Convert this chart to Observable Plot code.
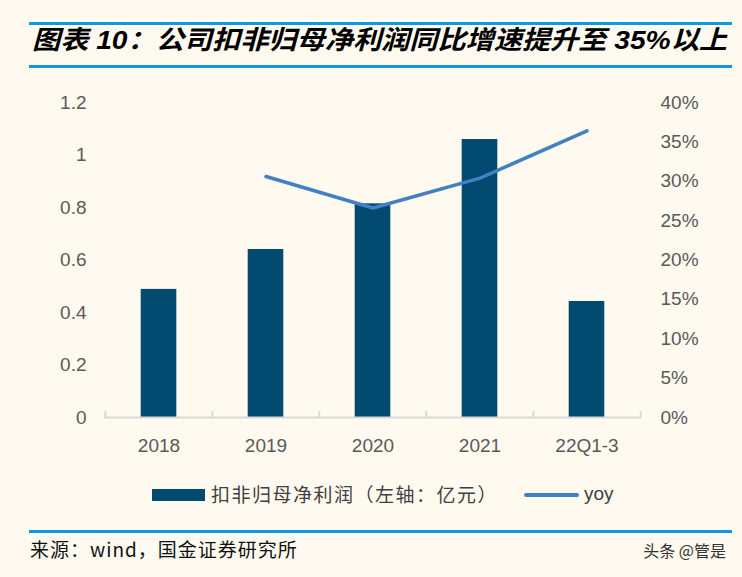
<!DOCTYPE html>
<html>
<head>
<meta charset="utf-8">
<script src="https://cdn.jsdelivr.net/npm/d3@7"></script>
<script src="https://cdn.jsdelivr.net/npm/@observablehq/plot@0.6"></script>
<style>
  html, body { margin: 0; padding: 0; background: #fffaf0; }
  #wrap { position: relative; width: 742px; height: 577px; background: #fffaf0; overflow: hidden;
          font-family: "Liberation Sans", "Noto Sans CJK SC", sans-serif; }
  .hline { position: absolute; left: 29px; width: 703px; height: 3px; background: #0a9be3; }
  #chart { position: absolute; left: 0; top: 80px; }
  #legend { position: absolute; top: 483px; left: 0; width: 742px; height: 24px; }
  .lg { position: absolute; }
  #source { position: absolute; left: 30px; top: 535px; font-size: 19px; color: #111; letter-spacing: 1px;
            font-family: "Noto Sans CJK SC", sans-serif; white-space: nowrap; }
  #mark { position: absolute; right: 16px; top: 538px; font-size: 16px; color: #333;
          font-family: "Noto Sans CJK SC", sans-serif; white-space: nowrap; }
</style>
</head>
<body>
<div id="wrap">
  <div class="hline" style="top:22px"></div>
  <svg id="title" width="742" height="70" style="position:absolute;left:0;top:0">
    <text x="32" y="49" font-size="26" font-weight="bold" font-style="italic" fill="#000"
      font-family="Liberation Sans, Noto Sans CJK SC, sans-serif" textLength="695" lengthAdjust="spacingAndGlyphs">图表 10：公司扣非归母净利润同比增速提升至 35%以上</text>
  </svg>
  <div class="hline" style="top:65px"></div>
  <div id="chart"></div>
  <div id="legend">
    <div class="lg" style="left:152px;top:6px;width:53px;height:12px;background:#024a6f"></div>
    <div class="lg" style="left:211px;top:-3px;font-size:19px;color:#404040;font-family:'Noto Sans CJK SC',sans-serif;white-space:nowrap;letter-spacing:1.5px">扣非归母净利润（左轴：亿元）</div>
    <div class="lg" style="left:524px;top:10px;width:55px;height:4px;background:#4181c3;border-radius:2px"></div>
    <div class="lg" style="left:584px;top:0px;font-size:19px;color:#404040;font-family:'Liberation Sans',sans-serif">yoy</div>
  </div>
  <div class="hline" style="top:530px"></div>
  <div id="source">来源：wind，国金证券研究所</div>
  <div id="mark">头条 @管是</div>
</div>
<script>
const categories = ["2018", "2019", "2020", "2021", "22Q1-3"];
const profit = [0.488, 0.64, 0.814, 1.059, 0.442];      // 扣非归母净利润 (亿元)
const yoy = [null, 30.6, 26.6, 30.4, 36.4];             // yoy (%)
const leftTicks = [0, 0.2, 0.4, 0.6, 0.8, 1, 1.2];
const rightTicks = [0, 5, 10, 15, 20, 25, 30, 35, 40];

const data = categories.map((c, i) => ({cat: c, profit: profit[i], yoy: yoy[i]}));

const W = 742, H = 390, mL = 104, mR = 101, mT = 22, mB = 53;
const step = (W - mL - mR) / categories.length;
const barW = 36;
const inset = (step - barW) / 2;
const ratio = 1.2 / 40; // right axis (%) -> left axis units
const grey = "#d9d9d9";

const chart = Plot.plot({
  width: W, height: H,
  marginLeft: mL, marginRight: mR, marginTop: mT, marginBottom: mB,
  style: {background: "transparent", fontFamily: "Liberation Sans, Arial, sans-serif", fontSize: "19px", color: "#595959"},
  x: {domain: categories, padding: 0, label: null},
  y: {domain: [0, 1.2], label: null},
  marks: [
    Plot.barY(data, {x: "cat", y: "profit", fill: "#024a6f", insetLeft: inset, insetRight: inset}),
    Plot.ruleY([0], {stroke: grey, strokeWidth: 2}),
    Plot.ruleX(categories, {x: d => d, y1: 0, y2: 0.023, stroke: grey, strokeWidth: 2, dx: -step / 2}),
    Plot.ruleX(categories.slice(-1), {x: d => d, y1: 0, y2: 0.023, stroke: grey, strokeWidth: 2, dx: step / 2}),
    Plot.line(data.filter(d => d.yoy != null), {x: "cat", y: d => d.yoy * ratio, stroke: "#4181c3", strokeWidth: 3.5, strokeLinecap: "round", strokeLinejoin: "round"}),
    Plot.axisX({label: null, tickSize: 0, tickPadding: 21, fontSize: 19, fill: "#595959"}),
    Plot.axisY({label: null, ticks: leftTicks, tickSize: 0, tickPadding: 18, fontSize: 19, fill: "#595959", tickFormat: d => String(d)}),
    Plot.axisY({label: null, anchor: "right", ticks: rightTicks.map(v => v * ratio), tickSize: 0, tickPadding: 19, textAnchor: "start", fontSize: 19, fill: "#595959",
      tickFormat: d => Math.round(d / ratio) + "%"})
  ]
});
document.getElementById("chart").appendChild(chart);
</script>
</body>
</html>
